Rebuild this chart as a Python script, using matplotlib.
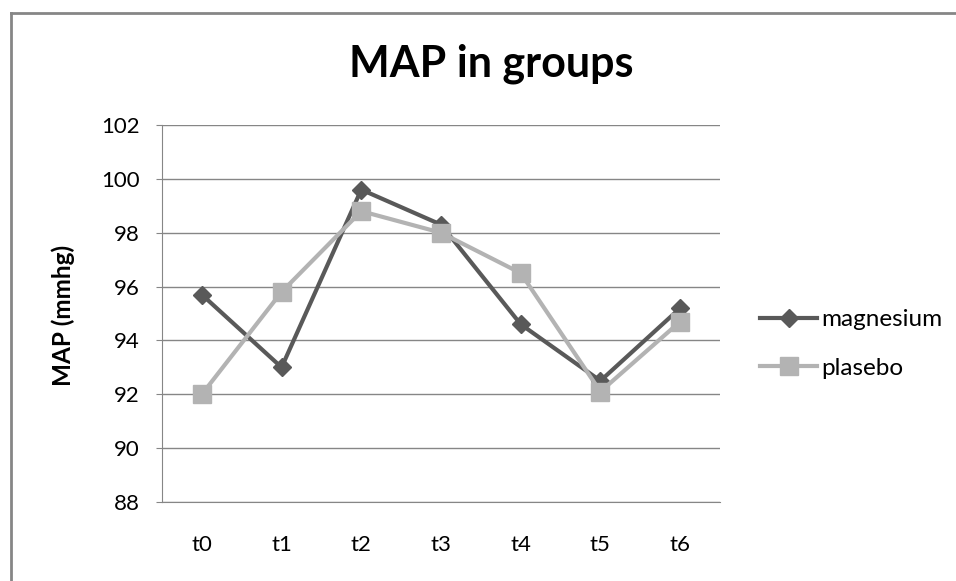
import matplotlib.pyplot as plt
from matplotlib.lines import Line2D

times = ['t0', 't1', 't2', 't3', 't4', 't5', 't6']
magnesium = [95.7, 93.0, 99.6, 98.3, 94.6, 92.5, 95.2]
plasebo = [92.0, 95.8, 98.8, 98.0, 96.5, 92.1, 94.7]
y_ticks = [88, 90, 92, 94, 96, 98, 100, 102]

plt.rcParams['font.family'] = ['Lato', 'DejaVu Sans']

W, H = 956, 581
fig = plt.figure(figsize=(W / 100, H / 100), dpi=100)
ax = fig.add_axes([162 / W, 1 - 502 / H, 558 / W, 377 / H])

x = range(len(times))
ax.plot(x, magnesium, color='#595959', lw=3, marker='D', ms=9,
        label='magnesium', zorder=3)
ax.plot(x, plasebo, color='#b3b3b3', lw=3, marker='s', ms=13,
        label='plasebo', zorder=4)

ax.set_xlim(-0.5, len(times) - 0.5)
ax.set_ylim(88, 102)
ax.set_yticks(y_ticks)
ax.set_xticks(list(x))
ax.set_xticklabels(times)
ax.tick_params(axis='y', length=4, color='#868686', labelsize=16, pad=12)
ax.tick_params(axis='x', length=0, labelsize=16, pad=24)
ax.yaxis.grid(True, color='#868686', lw=1)
ax.set_axisbelow(True)
for s in ['top', 'right']:
    ax.spines[s].set_visible(False)
ax.spines['left'].set_color('#868686')
ax.spines['bottom'].set_color('#868686')

fig.text(63 / W, 1 - 315 / H, 'MAP (mmhg)', rotation=90, ha='center',
         va='center', fontsize=17.5, fontweight='bold')
fig.text(491 / W, 1 - 77 / H, 'MAP in groups', ha='center', va='baseline',
         fontsize=31, fontweight='bold')

ax.legend(loc='center left', bbox_to_anchor=(760 / W, 1 - 344 / H),
          bbox_transform=fig.transFigure, frameon=False, fontsize=17.5,
          handlelength=2.35, handletextpad=0.15, labelspacing=1.15,
          borderpad=0, borderaxespad=0)

# chart border (left and top edges visible)
fig.lines.append(Line2D([11 / W, 11 / W], [0, 1 - 13 / H],
                        transform=fig.transFigure, color='#868686', lw=2))
fig.lines.append(Line2D([11 / W, 1.01], [1 - 13 / H, 1 - 13 / H],
                        transform=fig.transFigure, color='#868686', lw=2))

fig.savefig('out.png', dpi=100)
